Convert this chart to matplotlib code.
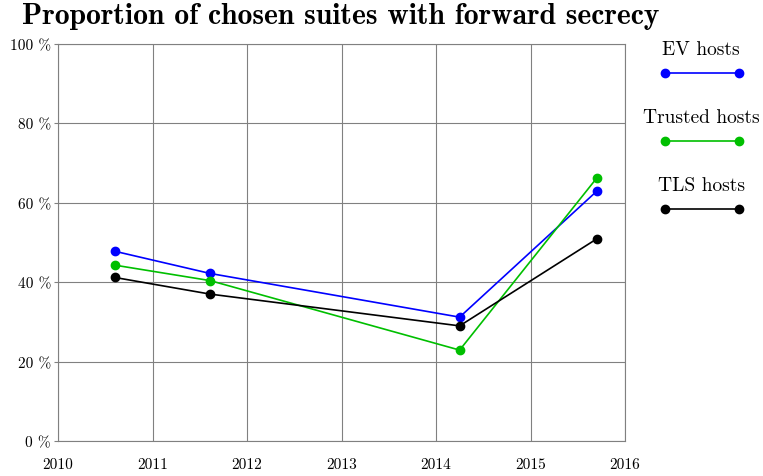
import matplotlib
matplotlib.use("Agg")
import matplotlib.pyplot as plt

plt.rcParams["font.family"] = ["cmr10", "DejaVu Serif"]
plt.rcParams["mathtext.fontset"] = "cm"
plt.rcParams["axes.formatter.use_mathtext"] = True

# measurement dates (fractional years) and shares in %
years = [2010.60, 2011.61, 2014.25, 2015.70]
ev_hosts = [47.8, 42.2, 31.2, 62.9]
trusted_hosts = [44.3, 40.4, 22.9, 66.2]
tls_hosts = [41.2, 37.0, 29.0, 50.9]

series = [
    ("EV hosts", ev_hosts, "#0000ff"),
    ("Trusted hosts", trusted_hosts, "#00bf00"),
    ("TLS hosts", tls_hosts, "#000000"),
]

x_ticks = [2010, 2011, 2012, 2013, 2014, 2015, 2016]
y_ticks = [0, 20, 40, 60, 80, 100]

fig = plt.figure(figsize=(7.63, 4.77), dpi=100)
ax = fig.add_axes([58 / 763, 35 / 477, 567 / 763, 397 / 477])

for name, vals, col in series:
    ax.plot(years, vals, color=col, lw=1.2, marker="o", ms=6, zorder=3)

ax.set_xlim(2010, 2016)
ax.set_ylim(0, 100)
ax.set_xticks(x_ticks)
ax.set_xticklabels([str(t) for t in x_ticks])
ax.set_yticks(y_ticks)
ax.set_yticklabels([f"{t} %" for t in y_ticks])
ax.grid(True, color="#808080", lw=0.8)
ax.set_axisbelow(True)
for sp in ax.spines.values():
    sp.set_color("#808080")
    sp.set_linewidth(0.8)
ax.tick_params(axis="both", length=3, color="#808080", labelsize=11)
ax.tick_params(axis="x", pad=12, length=0)
ax.tick_params(axis="y", pad=2)

fig.text(22 / 763, 1 - 17 / 477, "Proportion of chosen suites with forward secrecy",
         fontsize=21.3, family=["cmb10", "DejaVu Serif"], fontweight="bold", va="center", ha="left")

# pgfplots-like legend: title above each sample line
lax = fig.add_axes([640 / 763, 0, 123 / 763, 1])
lax.set_xlim(0, 123)
lax.set_ylim(477, 0)
lax.axis("off")
for i, (name, vals, col) in enumerate(series):
    ty = 50 + 68 * i
    lax.text(61, ty, name, ha="center", va="center", fontsize=14)
    lax.plot([25, 99], [ty + 24, ty + 24], color=col, lw=1.2, marker="o", ms=6)

fig.savefig("out.png", dpi=100)
